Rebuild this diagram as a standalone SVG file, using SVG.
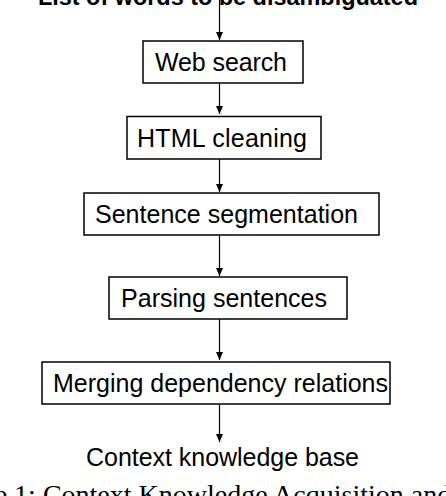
<svg xmlns="http://www.w3.org/2000/svg" width="446" height="496" viewBox="0 0 446 496">
<style>
.box{fill:#fff;stroke:#000;stroke-width:1.5}
.lbl{font-family:"Liberation Sans",Arial,sans-serif;font-size:25px;fill:#000}
.edge{stroke:#000;stroke-width:1.2;fill:none}
.cap{font-family:"Liberation Serif","Times New Roman",serif;font-size:28px;fill:#000}
</style>
<defs>
<marker id="arr" markerUnits="userSpaceOnUse" markerWidth="8" markerHeight="9" refX="8" refY="4" orient="auto">
<path d="M0,0.5 L8,4 L0,7.5 Z" fill="#000"/>
</marker>
</defs>
<rect width="446" height="496" fill="#fff"/>
<g id="connectors">
<line class="edge" x1="219.5" y1="0" x2="219.5" y2="40" marker-end="url(#arr)"/>
<line class="edge" x1="219.5" y1="83" x2="219.5" y2="114" marker-end="url(#arr)"/>
<line class="edge" x1="219.5" y1="159" x2="219.5" y2="192" marker-end="url(#arr)"/>
<line class="edge" x1="219.5" y1="235" x2="219.5" y2="276" marker-end="url(#arr)"/>
<line class="edge" x1="219.5" y1="319" x2="219.5" y2="360" marker-end="url(#arr)"/>
<line class="edge" x1="219.5" y1="404" x2="219.5" y2="442" marker-end="url(#arr)"/>
</g>
<g id="input">
<text x="38" y="5" font-family="Liberation Sans,Arial,sans-serif" font-size="23.5" font-weight="bold" textLength="380">List of words to be disambiguated</text>
</g>
<g id="web-search">
<rect class="box" x="143" y="41" width="160" height="42"/>
<text class="lbl" x="155" y="70.5" textLength="132">Web search</text>
</g>
<g id="html-cleaning">
<rect class="box" x="127" y="116.5" width="194" height="42.5"/>
<text class="lbl" x="137" y="146.5" textLength="170">HTML cleaning</text>
</g>
<g id="sentence-segmentation">
<rect class="box" x="84" y="193" width="295" height="42"/>
<text class="lbl" x="95" y="222.5" textLength="263">Sentence segmentation</text>
</g>
<g id="parsing-sentences">
<rect class="box" x="109" y="277" width="238" height="42"/>
<text class="lbl" x="121" y="306.5" textLength="206">Parsing sentences</text>
</g>
<g id="merging">
<rect class="box" x="42" y="362" width="348" height="42"/>
<text class="lbl" x="53" y="391.5" textLength="335">Merging dependency relations</text>
</g>
<g id="output">
<text class="lbl" x="86" y="466" textLength="273">Context knowledge base</text>
</g>
<text class="cap" x="-66" y="503.5">Figure 1: Context Knowledge Acquisition and</text>
</svg>
